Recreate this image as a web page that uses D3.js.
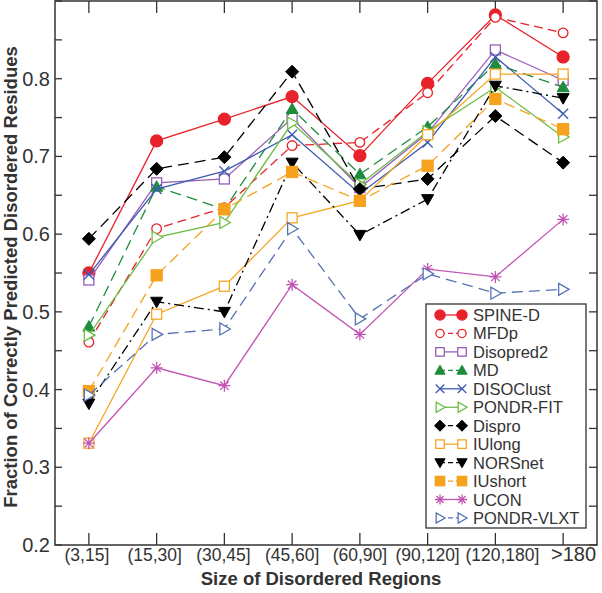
<!DOCTYPE html>
<html><head><meta charset="utf-8">
<script src="https://cdn.jsdelivr.net/npm/d3@7"></script>
<style>body{margin:0;background:#fff}svg{display:block;font-family:"Liberation Sans",Arial,sans-serif}</style>
</head><body><svg id="c" width="602" height="593"></svg>
<script>
const categories = ["(3,15]","(15,30]","(30,45]","(45,60]","(60,90]","(90,120]","(120,180]",">180"];
const yTicks = [0.2,0.3,0.4,0.5,0.6,0.7,0.8];
const seriesNames = ["SPINE-D","MFDp","Disopred2","MD","DISOClust","PONDR-FIT","Dispro","IUlong","NORSnet","IUshort","UCON","PONDR-VLXT"];
const spineD    = [0.550,0.720,0.748,0.777,0.701,0.794,0.882,0.828];
const mfdp      = [0.461,0.607,0.634,0.714,0.718,0.782,0.879,0.859];
const disopred2 = [0.541,0.666,0.671,0.749,0.660,0.730,0.837,0.798];
const md        = [0.481,0.661,0.632,0.761,0.677,0.738,0.819,0.789];
const disoclust = [0.548,0.658,0.681,0.728,0.652,0.718,0.828,0.755];
const pondrFit  = [0.470,0.596,0.615,0.743,0.664,0.732,0.789,0.725];
const dispro    = [0.594,0.684,0.699,0.809,0.658,0.671,0.752,0.692];
const iulong    = [0.331,0.497,0.533,0.621,0.643,0.728,0.806,0.806];
const norsnet   = [0.382,0.513,0.500,0.692,0.599,0.645,0.791,0.775];
const iushort   = [0.398,0.547,0.632,0.680,0.643,0.688,0.774,0.735];
const ucon      = [0.331,0.428,0.405,0.535,0.471,0.555,0.545,0.619];
const pondrVlxt = [0.393,0.471,0.478,0.607,0.491,0.549,0.524,0.529];
const seriesValues = [spineD,mfdp,disopred2,md,disoclust,pondrFit,dispro,iulong,norsnet,iushort,ucon,pondrVlxt];

const styles = [
 {c:"#e8222a", dash:null, m:"circle", fill:true, r:6},
 {c:"#e8222a", dash:"9,5", m:"circle", fill:false, r:4.8},
 {c:"#9a5cb8", dash:null, m:"square", fill:false, r:5},
 {c:"#1e8c3c", dash:"11,6", m:"triUp", fill:true, r:6},
 {c:"#3d5cb0", dash:null, m:"x", fill:false, r:5},
 {c:"#6cbd45", dash:null, m:"triRight", fill:false, r:6},
 {c:"#000000", dash:"11,6", m:"diamond", fill:true, r:6.5},
 {c:"#f5a623", dash:null, m:"square", fill:false, r:5},
 {c:"#000000", dash:"10,4,2,4", m:"triDown", fill:true, r:6},
 {c:"#f5a21e", dash:"11,6", m:"square", fill:true, r:5.5},
 {c:"#c254b4", dash:null, m:"star", fill:false, r:6},
 {c:"#5672b4", dash:"11,6", m:"triRight", fill:false, r:6}
];

const svg = d3.select("#c");
const L=55, R=597, T=1, B=545;
const x = d3.scalePoint().domain(categories).range([L,R]).padding(0.5);
const y = d3.scaleLinear().domain([0.2,0.9]).range([B,T]);

function marker(g, type, cx, cy, r, col, fill){
  const fc = fill?col:"#fff";
  if(type==="circle") g.append("circle").attr("cx",cx).attr("cy",cy).attr("r",r).attr("fill",fc).attr("stroke",col).attr("stroke-width",1.3);
  else if(type==="square") g.append("rect").attr("x",cx-r).attr("y",cy-r).attr("width",2*r).attr("height",2*r).attr("fill",fc).attr("stroke",col).attr("stroke-width",1.3);
  else if(type==="diamond") g.append("path").attr("d",`M${cx},${cy-r}L${cx+r},${cy}L${cx},${cy+r}L${cx-r},${cy}Z`).attr("fill",fc).attr("stroke",col);
  else if(type==="triUp") g.append("path").attr("d",`M${cx},${cy-r}L${cx+r},${cy+r*0.75}L${cx-r},${cy+r*0.75}Z`).attr("fill",fc).attr("stroke",col);
  else if(type==="triDown") g.append("path").attr("d",`M${cx},${cy+r}L${cx+r},${cy-r*0.75}L${cx-r},${cy-r*0.75}Z`).attr("fill",fc).attr("stroke",col);
  else if(type==="triRight") g.append("path").attr("d",`M${cx+r},${cy}L${cx-r*0.75},${cy-r}L${cx-r*0.75},${cy+r}Z`).attr("fill",fc).attr("stroke",col).attr("stroke-width",1.3);
  else if(type==="x") g.append("path").attr("d",`M${cx-r},${cy-r}L${cx+r},${cy+r}M${cx-r},${cy+r}L${cx+r},${cy-r}`).attr("stroke",col).attr("stroke-width",1.3);
  else if(type==="star") g.append("path").attr("d",`M${cx-r},${cy}L${cx+r},${cy}M${cx},${cy-r}L${cx},${cy+r}M${cx-r*0.7},${cy-r*0.7}L${cx+r*0.7},${cy+r*0.7}M${cx-r*0.7},${cy+r*0.7}L${cx+r*0.7},${cy-r*0.7}`).attr("stroke",col).attr("stroke-width",1.3);
}

// frame
svg.append("rect").attr("x",L).attr("y",T).attr("width",R-L).attr("height",B-T).attr("fill","none").attr("stroke","#333").attr("stroke-width",1.5);

// y ticks (every 0.05), inward on both sides
const minor = d3.range(0.2,0.9001,0.05);
minor.forEach(v=>{
  svg.append("line").attr("x1",L).attr("x2",L+7).attr("y1",y(v)).attr("y2",y(v)).attr("stroke","#333").attr("stroke-width",1.3);
  svg.append("line").attr("x1",R).attr("x2",R-8).attr("y1",y(v)).attr("y2",y(v)).attr("stroke","#333").attr("stroke-width",1.3);
});
// x ticks bottom and top
categories.forEach(c=>{
  svg.append("line").attr("x1",x(c)).attr("x2",x(c)).attr("y1",B).attr("y2",B-12).attr("stroke","#333").attr("stroke-width",1.3);
  svg.append("line").attr("x1",x(c)).attr("x2",x(c)).attr("y1",T).attr("y2",T+12).attr("stroke","#333").attr("stroke-width",1.3);
});
// y labels
yTicks.forEach(v=>{
  svg.append("text").attr("x",L-5).attr("y",y(v)+7).attr("text-anchor","end").attr("font-size",20).attr("fill","#333").text(d3.format(".1f")(v));
});
// x labels
const xOff = [-2,-2,-1,0,0,0,7,0];
categories.forEach((c,i)=>{
  const last = i===categories.length-1;
  svg.append("text").attr("x",last?551:x(c)+xOff[i]).attr("y",561).attr("text-anchor",last?"start":"middle")
    .attr("font-size",last?20:17.5).attr("fill","#333").text(c);
});
// axis titles
svg.append("text").attr("x",(L+R)/2-5).attr("y",585).attr("text-anchor","middle").attr("font-size",18.5).attr("font-weight","bold").attr("fill","#333").text("Size of Disordered Regions");
svg.append("text").attr("transform",`translate(17,${(T+B)/2+4})rotate(-90)`).attr("text-anchor","middle").attr("font-size",18.5).attr("font-weight","bold").attr("fill","#333").text("Fraction of Correctly Predicted Disordered Residues");

// series
const line = d3.line().x((d,i)=>x(categories[i])).y(d=>y(d));
seriesValues.forEach((vals,k)=>{
  const s = styles[k];
  const g = svg.append("g");
  g.append("path").attr("d",line(vals)).attr("fill","none").attr("stroke",s.c).attr("stroke-width",1.3).attr("stroke-dasharray",s.dash);
  vals.forEach((v,i)=>marker(g,s.m,x(categories[i]),y(v),s.r,s.c,s.fill));
});

// legend
const lg = svg.append("g");
lg.append("rect").attr("x",426).attr("y",304).attr("width",160).attr("height",224).attr("fill","#fff").attr("stroke","#333").attr("stroke-width",1.3);
seriesNames.forEach((n,k)=>{
  const s = styles[k];
  const yy = 315 + k*18.45;
  lg.append("line").attr("x1",440).attr("x2",462).attr("y1",yy).attr("y2",yy).attr("stroke",s.c).attr("stroke-width",1.3).attr("stroke-dasharray",s.dash?"5,3":null);
  marker(lg,s.m,440,yy,s.r*0.85,s.c,s.fill);
  marker(lg,s.m,462,yy,s.r*0.85,s.c,s.fill);
  lg.append("text").attr("x",473).attr("y",yy+6).attr("font-size",16.5).attr("fill","#333").text(n);
});
</script></body></html>
